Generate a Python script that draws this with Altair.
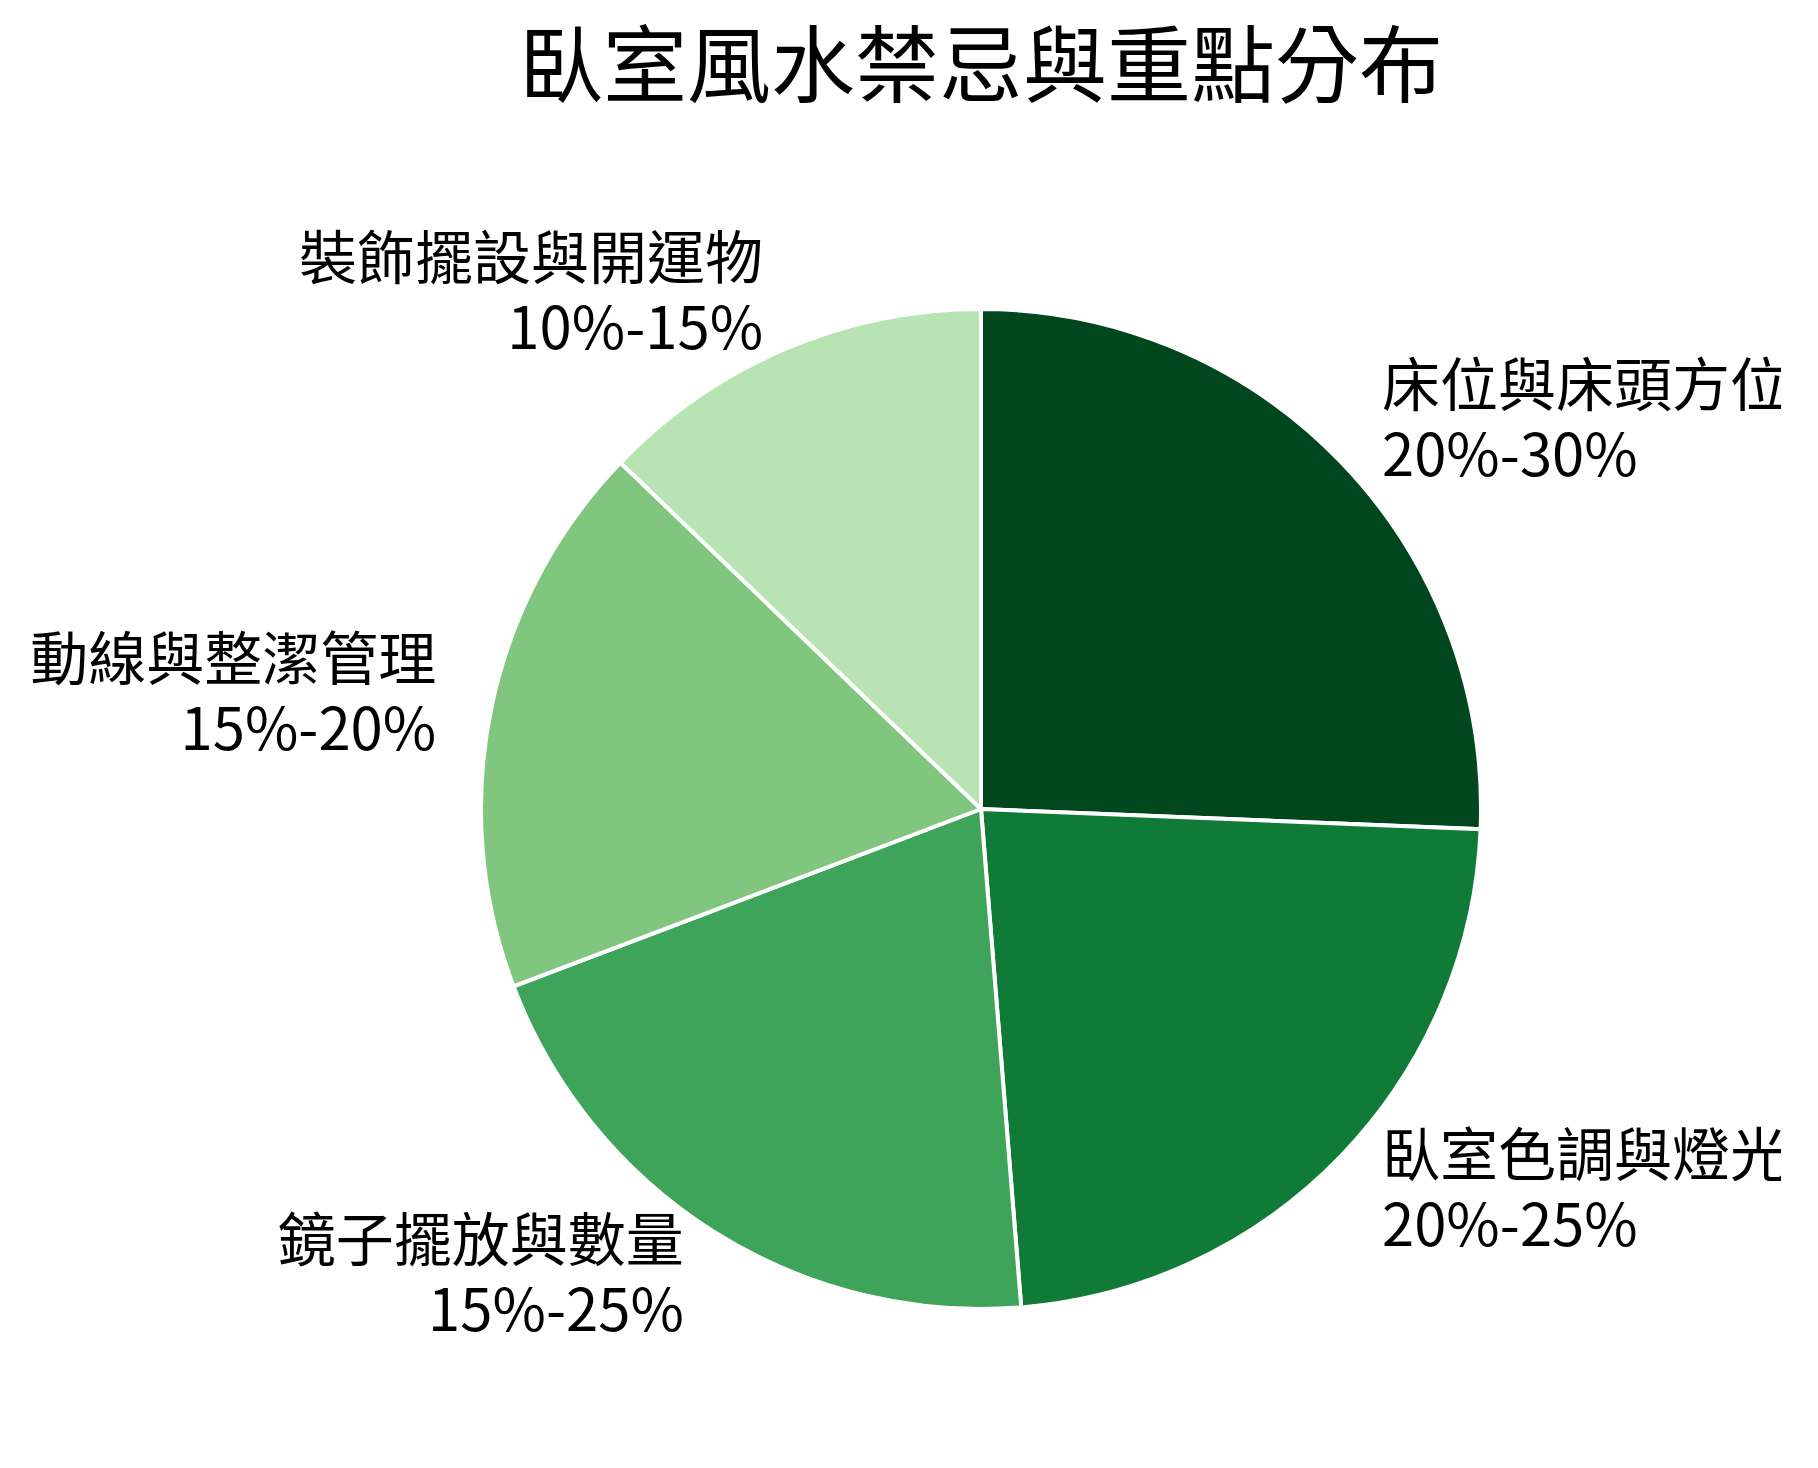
import altair as alt
import pandas as pd

categories = ["床位與床頭方位", "臥室色調與燈光", "鏡子擺放與數量", "動線與整潔管理", "裝飾擺設與開運物"]
ranges = ["20%-30%", "20%-25%", "15%-25%", "15%-20%", "10%-15%"]
values = [25, 22.5, 20, 17.5, 12.5]
colors = ["#00471e", "#107a37", "#3ea45a", "#80c67e", "#b8e3b2"]
sides = ["right", "right", "left", "left", "left"]

df = pd.DataFrame({
    "cat": categories,
    "range": ranges,
    "value": values,
    "order": list(range(len(categories))),
    "side": sides,
})

FONT = "Noto Sans CJK TC"

base = alt.Chart(df)

arcs = base.mark_arc(outerRadius=500, stroke="white", strokeWidth=4).encode(
    theta=alt.Theta("value:Q", stack=True),
    color=alt.Color("cat:N", scale=alt.Scale(domain=categories, range=colors), legend=None),
    order=alt.Order("order:Q"),
)

lab = base.transform_window(
    cum="sum(value)", sort=[alt.SortField("order")], frame=[None, 0]
).transform_calculate(
    mid="datum.cum - datum.value / 2",
    label="datum.cat + '\\n' + datum.range",
)

def label_layer(side, align):
    return lab.transform_filter(f"datum.side == '{side}'").mark_text(
        radius=556, align=align, baseline="middle", fontSize=58, font=FONT,
        lineBreak="\n", lineHeight=70, color="black", dy=-35,
    ).encode(
        theta=alt.Theta("mid:Q", stack=None),
        text="label:N",
    )

chart = alt.layer(arcs, label_layer("right", "left"), label_layer("left", "right")).properties(
    width=1600,
    height=1300,
    title=alt.TitleParams(
        "臥室風水禁忌與重點分布", fontSize=84, font=FONT, fontWeight="normal",
        anchor="middle", frame="group", offset=45, color="black",
    ),
    autosize=alt.AutoSizeParams(type="none"),
    padding={"left": 173, "top": 151, "right": 0, "bottom": 0},
).configure_view(stroke=None)

chart.save("out.html", embed_options={"renderer": "svg", "actions": False})
